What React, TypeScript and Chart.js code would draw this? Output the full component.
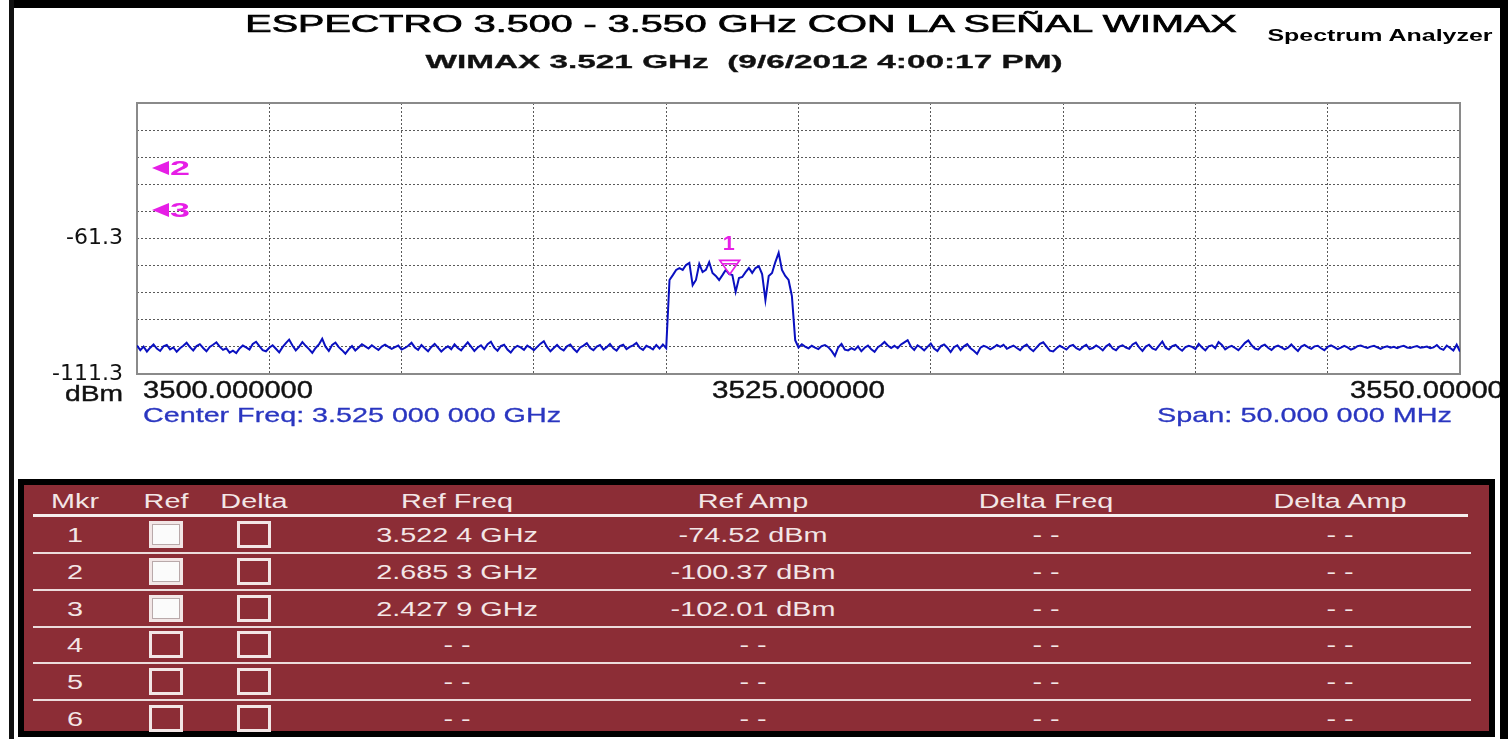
import React, { useEffect, useRef } from "react";
import { Chart, registerables } from "chart.js";

Chart.register(...registerables);

// ---------------- DATA ----------------
const START_FREQ_MHZ = 3500;
const STOP_FREQ_MHZ = 3550;

// trace points 0..160 (noise floor left of the WiMAX carrier)
const noiseLow = [
  -100.8, -102.5, -101.2, -103.0, -101.6, -100.4, -101.9, -102.8, -101.1, -100.6, -102.2, -101.5, -103.1, -101.8, -100.9, -99.8, -101.4, -102.6, -101.0, -100.3,
  -101.7, -102.9, -101.3, -100.5, -99.6, -101.2, -102.4, -101.8, -103.4, -102.7, -103.6, -101.9, -100.8, -101.5, -102.3, -100.2, -99.4, -101.0, -102.5, -102.9,
  -101.6, -100.7, -102.0, -103.3, -101.4, -99.9, -98.6, -100.8, -102.6, -101.3, -99.5, -100.9, -102.1, -103.5, -101.7, -100.4, -98.3, -101.2, -102.8, -100.6,
  -99.7, -101.4, -102.5, -103.8, -102.2, -101.0, -102.6, -101.5, -100.3, -101.1, -101.9, -100.7, -101.6, -102.4, -101.2, -100.5, -101.3, -102.0, -101.4, -100.8,
  -102.3, -101.7, -100.9, -99.8, -101.5, -102.4, -100.6, -101.8, -102.9, -101.3, -100.2, -101.6, -103.0, -101.9, -101.1, -102.2, -100.4, -101.7, -102.6, -101.0,
  -99.6, -101.2, -102.8, -101.5, -100.7, -102.1, -100.3, -99.4, -101.6, -102.7, -101.0, -100.5, -102.3, -103.4, -101.8, -100.9, -101.5, -102.4, -100.8, -101.6,
  -102.5, -101.3, -100.1, -99.2, -101.4, -102.9, -101.7, -100.6, -101.9, -102.6, -101.1, -100.4, -102.0, -103.2, -101.5, -100.8, -99.9, -101.7, -102.5, -101.2,
  -100.6, -102.3, -101.4, -100.2, -101.8, -102.7, -101.0, -100.5, -102.1, -101.3, -100.7, -99.8, -101.6, -102.4, -100.9, -101.5, -102.2, -100.6, -101.9, -100.4, -101.8,
];

// trace points 161..199 (the WiMAX carrier)
const signalBand = [
  -76.6, -74.8, -72.9, -72.2, -72.9, -71.1, -70.3, -78.5, -76.6, -70.7,
  -73.7, -72.9, -70.0, -74.0, -75.1, -76.6, -74.8, -72.9, -74.4, -74.8,
  -81.0, -75.9, -75.5, -73.7, -72.2, -74.0, -72.2, -71.5, -74.4, -84.0,
  -75.1, -74.0, -70.0, -66.6, -72.9, -75.1, -76.6, -82.5, -98.8,
];

// trace points 200..400 (noise floor right of the carrier)
const noiseHigh = [
  -101.5,
  -100.3, -101.2, -101.8, -100.9, -101.6, -102.1, -101.0, -100.6, -101.4, -102.8, -104.6, -101.5, -100.2, -102.3, -102.6, -101.8, -102.4, -101.1, -102.9, -101.6,
  -100.8, -102.2, -103.1, -101.4, -100.6, -99.5, -100.8, -101.7, -100.9, -101.8, -100.4, -99.6, -98.8, -101.2, -102.4, -100.7, -101.5, -102.6, -101.3, -100.1,
  -101.9, -102.8, -101.0, -100.4, -101.6, -103.2, -101.4, -100.7, -102.5, -101.1, -100.3, -101.8, -102.7, -103.9, -101.6, -100.9, -101.4, -102.2, -101.5, -100.6,
  -101.3, -100.5, -102.0, -101.4, -100.8, -101.7, -102.5, -101.2, -100.4, -101.9, -102.9, -101.5, -100.2, -99.6, -101.1, -102.7, -103.0, -101.8, -100.9, -101.6,
  -102.3, -101.0, -100.6, -101.8, -102.4, -101.3, -100.5, -102.1, -101.7, -100.8, -101.5, -102.6, -101.1, -100.3, -101.9, -102.5, -101.2, -100.7, -101.6, -102.0,
  -100.4, -99.7, -101.5, -102.8, -101.2, -100.5, -101.9, -102.4, -100.8, -99.3, -101.6, -102.3, -101.0, -100.6, -101.8, -102.7, -101.4, -100.9, -101.3, -102.1,
  -100.2, -101.5, -102.6, -101.1, -100.7, -101.8, -99.5, -100.6, -102.2, -101.4, -100.9, -101.7, -102.5, -101.2, -99.8, -98.9, -100.7, -101.9, -102.3, -101.0,
  -100.5, -101.6, -102.4, -101.3, -100.8, -101.5, -102.2, -101.6, -100.4, -101.7, -102.8, -101.2, -100.6, -101.4, -102.0, -101.1, -100.9, -101.8, -102.5, -101.3,
  -100.7, -101.4, -102.1, -101.6, -100.9, -101.5, -102.3, -101.8, -101.0, -100.8, -101.3, -101.7, -101.2, -100.9, -101.5, -102.0, -101.4, -101.1, -101.6, -101.3,
  -101.8, -101.2, -100.9, -101.5, -101.7, -101.3, -101.0, -101.6, -101.4, -101.2, -101.8, -101.5, -100.6, -101.9, -102.4, -100.8, -101.7, -102.6, -100.5, -103.0,
];

const traceDbm = [...noiseLow, ...signalBand, ...noiseHigh];

const xGridMHz = [3500, 3505, 3510, 3515, 3520, 3525, 3530, 3535, 3540, 3545, 3550];
const yGridDbm = [-111.3, -101.3, -91.3, -81.3, -71.3, -61.3, -51.3, -41.3, -31.3, -21.3, -11.3];
const yLabelValues = [-61.3, -111.3];
const yUnit = "dBm";
const xLabelValues = [3500, 3525, 3550];
const xLabelTexts = ["3500.000000", "3525.000000", "3550.000000"];

const onScreenMarker = { id: "1", freq: 3522.4, amp: -74.52 };
const offScreenMarkerIds = ["2", "3"];
const offScreenMarkerLevels = [-35.3, -50.8];

const titleText = "ESPECTRO 3.500 - 3.550 GHz CON LA SEÑAL WIMAX";
const subtitleText = "WIMAX 3.521 GHz  (9/6/2012 4:00:17 PM)";
const brandText = "Spectrum Analyzer";
const centerFreqText = "Center Freq: 3.525 000 000 GHz";
const spanText = "Span: 50.000 000 MHz";

const tableHeaders = ["Mkr", "Ref", "Delta", "Ref Freq", "Ref Amp", "Delta Freq", "Delta Amp"];
const markerIds = ["1", "2", "3", "4", "5", "6"];
const refChecked = [true, true, true, false, false, false];
const refFreqs = ["3.522 4 GHz", "2.685 3 GHz", "2.427 9 GHz", "- -", "- -", "- -"];
const refAmps = ["-74.52 dBm", "-100.37 dBm", "-102.01 dBm", "- -", "- -", "- -"];
const deltaFreqs = ["- -", "- -", "- -", "- -", "- -", "- -"];
const deltaAmps = ["- -", "- -", "- -", "- -", "- -", "- -"];

// ---------------- STYLE / LAYOUT ----------------
const FONT = "'Liberation Sans', Arial, sans-serif";
const MAGENTA = "#e61ee6";
const TRACE = "#0a10c0";
const AXIS_BLUE = "#2a36c0";
const MAROON = "#8c2d36";
const TABLE_TEXT = "#f3e6e6";

let measureCtx: CanvasRenderingContext2D | null = null;
function measure(text: string, font: string) {
  if (!measureCtx) measureCtx = document.createElement("canvas").getContext("2d");
  measureCtx!.font = font;
  return measureCtx!.measureText(text).width;
}

function fitText(
  ctx: CanvasRenderingContext2D,
  text: string,
  x: number,
  y: number,
  font: string,
  color: string,
  align: CanvasTextAlign,
  width: number,
  stroke = 0
) {
  ctx.save();
  ctx.font = font;
  const w0 = ctx.measureText(text).width || 1;
  ctx.translate(x, y);
  ctx.scale(width / w0, 1);
  ctx.textAlign = align;
  ctx.textBaseline = "middle";
  ctx.fillStyle = color;
  ctx.fillText(text, 0, 0);
  if (stroke > 0) {
    ctx.strokeStyle = color;
    ctx.lineWidth = stroke;
    ctx.strokeText(text, 0, 0);
  }
  ctx.restore();
}

const overlayPlugin = {
  id: "analyzerOverlay",
  beforeDatasetsDraw(chart: any) {
    const { ctx, chartArea: a } = chart;
    ctx.save();
    ctx.strokeStyle = "#8a8a8a";
    ctx.lineWidth = 2;
    ctx.strokeRect(a.left, a.top, a.right - a.left, a.bottom - a.top);
    ctx.restore();
  },
  afterDatasetsDraw(chart: any) {
    const { ctx, chartArea: a } = chart;
    const xs = chart.scales.x;
    const ys = chart.scales.y;
    // marker 1 (on trace)
    const px = xs.getPixelForValue(onScreenMarker.freq);
    const py = ys.getPixelForValue(onScreenMarker.amp);
    ctx.save();
    ctx.strokeStyle = MAGENTA;
    ctx.lineWidth = 1.6;
    ctx.beginPath();
    ctx.moveTo(px - 10, py - 14);
    ctx.lineTo(px + 10, py - 14);
    ctx.lineTo(px, py);
    ctx.closePath();
    ctx.stroke();
    ctx.beginPath();
    ctx.moveTo(px - 7, py - 10.5);
    ctx.lineTo(px + 7, py - 10.5);
    ctx.stroke();
    ctx.restore();
    fitText(ctx, onScreenMarker.id, px - 1, py - 30, `bold 20px ${FONT}`, MAGENTA, "center", 12);
    // off-screen markers
    offScreenMarkerIds.forEach((id, i) => {
      const y = ys.getPixelForValue(offScreenMarkerLevels[i]);
      const x0 = a.left + 15;
      ctx.save();
      ctx.fillStyle = MAGENTA;
      ctx.beginPath();
      ctx.moveTo(x0, y);
      ctx.lineTo(x0 + 17, y - 7);
      ctx.lineTo(x0 + 17, y + 7);
      ctx.closePath();
      ctx.fill();
      ctx.restore();
      fitText(ctx, id, x0 + 18, y + 1, `bold 21px ${FONT}`, MAGENTA, "left", 20);
    });
  },
  afterDraw(chart: any) {
    const { ctx, chartArea: a } = chart;
    const xs = chart.scales.x;
    const labelFont = `23px ${FONT}`;
    const ly = a.bottom + 17.5;
    xLabelValues.forEach((v, i) => {
      const p = xs.getPixelForValue(v);
      if (i === 0) fitText(ctx, xLabelTexts[i], p + 6, ly, labelFont, "#111", "left", 170, 0.4);
      else if (i === xLabelValues.length - 1) fitText(ctx, xLabelTexts[i], p - 110, ly, labelFont, "#111", "left", 170, 0.4);
      else fitText(ctx, xLabelTexts[i], p, ly, labelFont, "#111", "center", 173, 0.4);
    });
    fitText(ctx, yUnit, a.left - 14, a.bottom + 21, `22px ${FONT}`, "#111", "right", 58, 0.4);
    fitText(ctx, centerFreqText, a.left + 6, a.bottom + 42.5, `21px ${FONT}`, AXIS_BLUE, "left", 418, 0.3);
    fitText(ctx, spanText, a.right - 8, a.bottom + 42.5, `21px ${FONT}`, AXIS_BLUE, "right", 295, 0.3);
  },
};

function FitLabel(props: {
  text: string;
  cx: number;
  cy: number;
  font: string;
  color: string;
  width?: number;
  sx?: number;
  stroke?: number;
}) {
  const { text, cx, cy, font, color, width, sx, stroke } = props;
  const s = sx ?? (width ? width / (measure(text, font) || 1) : 1);
  return (
    <span
      style={{
        position: "absolute",
        left: cx,
        top: cy,
        transform: `translate(-50%, -50%) scaleX(${s})`,
        font,
        color,
        whiteSpace: "pre",
        lineHeight: 1,
        WebkitTextStroke: stroke ? `${stroke}px ${color}` : undefined,
      }}
    >
      {text}
    </span>
  );
}

export default function App() {
  const canvasRef = useRef<HTMLCanvasElement>(null);

  useEffect(() => {
    const step = (STOP_FREQ_MHZ - START_FREQ_MHZ) / (traceDbm.length - 1);
    const points = traceDbm.map((v, i) => ({ x: START_FREQ_MHZ + i * step, y: v }));
    const gridStyle = { color: "#5a5a5a", lineWidth: 1, drawTicks: false };
    const chart = new Chart(canvasRef.current!, {
      type: "line",
      data: {
        datasets: [
          {
            data: points,
            borderColor: TRACE,
            borderWidth: 2,
            pointRadius: 0,
            tension: 0,
            fill: false,
          },
        ],
      },
      options: {
        animation: false,
        responsive: false,
        devicePixelRatio: 1,
        layout: { padding: { top: 103, right: 48, bottom: 96, left: 0 } },
        plugins: { legend: { display: false }, tooltip: { enabled: false }, title: { display: false } },
        scales: {
          x: {
            type: "linear",
            min: START_FREQ_MHZ,
            max: STOP_FREQ_MHZ,
            afterBuildTicks: (s: any) => {
              s.ticks = xGridMHz.map((v) => ({ value: v }));
            },
            afterFit: (s: any) => {
              s.height = 0;
            },
            ticks: { display: false },
            grid: gridStyle,
            border: { display: false, dash: [2, 2] },
          },
          y: {
            type: "linear",
            min: yGridDbm[0],
            max: yGridDbm[yGridDbm.length - 1],
            afterBuildTicks: (s: any) => {
              s.ticks = yGridDbm.map((v) => ({ value: v }));
            },
            afterFit: (s: any) => {
              s.width = 137;
            },
            ticks: {
              callback: (v: any) => (yLabelValues.includes(Number(v)) ? String(v) : ""),
              color: "#111",
              font: { family: "DejaVu Sans", size: 22 },
              padding: 14,
              autoSkip: false,
            },
            grid: gridStyle,
            border: { display: false, dash: [2, 2] },
          },
        },
      },
      plugins: [overlayPlugin],
    } as any);
    return () => chart.destroy();
  }, []);

  const colCenters = [75, 166, 254, 457, 753, 1046, 1340];
  const rowCenter = (i: number) => 535 + i * 36.75;
  const tableFont = `20px ${FONT}`;
  const tableSx = 1.44;

  return (
    <div
      style={{
        position: "absolute",
        left: 0,
        top: 0,
        width: 1508,
        height: 739,
        background: "#fff",
        overflow: "hidden",
        fontFamily: FONT,
      }}
    >
      <canvas ref={canvasRef} width={1508} height={470} style={{ position: "absolute", left: 0, top: 0, width: 1508, height: 470 }} />

      <FitLabel text={titleText} cx={740.5} cy={24} font={`24px ${FONT}`} color="#000" width={995} stroke={0.7} />
      <FitLabel text={subtitleText} cx={743.5} cy={62} font={`bold 18px ${FONT}`} color="#111" width={637} stroke={0.3} />
      <FitLabel text={brandText} cx={1380} cy={35} font={`bold 17px ${FONT}`} color="#000" width={226} />

      {/* marker table */}
      <div
        style={{
          position: "absolute",
          left: 18,
          top: 479,
          width: 1477,
          height: 258,
          border: "6px solid #000",
          boxSizing: "border-box",
          background: MAROON,
        }}
      />
      {tableHeaders.map((h, c) => (
        <FitLabel key={"h" + c} text={h} cx={colCenters[c]} cy={501} font={tableFont} color={TABLE_TEXT} sx={tableSx} />
      ))}
      <div style={{ position: "absolute", left: 33, top: 514, width: 1435, height: 3, background: "#f6eeee" }} />
      {markerIds.slice(0, 5).map((_, i) => (
        <div
          key={"sep" + i}
          style={{ position: "absolute", left: 33, top: 552 + i * 36.8, width: 1438, height: 2, background: "#ecdcdc" }}
        />
      ))}
      {markerIds.map((id, i) => {
        const cy = rowCenter(i);
        const cells = [id, null, null, refFreqs[i], refAmps[i], deltaFreqs[i], deltaAmps[i]];
        return (
          <React.Fragment key={"r" + i}>
            {cells.map((t, c) =>
              t === null ? null : (
                <FitLabel key={c} text={t} cx={colCenters[c]} cy={cy} font={tableFont} color={TABLE_TEXT} sx={tableSx} />
              )
            )}
            <div
              style={{
                position: "absolute",
                left: colCenters[1] - 17,
                top: cy - 14,
                width: 34,
                height: 27,
                border: "3px solid #f2e6e6",
                boxSizing: "border-box",
                background: refChecked[i] ? "#fbfbfb" : "transparent",
                boxShadow: refChecked[i] ? "inset 0 0 0 1px #b9a9aa" : "none",
              }}
            />
            <div
              style={{
                position: "absolute",
                left: colCenters[2] - 17,
                top: cy - 14,
                width: 34,
                height: 27,
                border: "3px solid #f2e6e6",
                boxSizing: "border-box",
                background: "transparent",
              }}
            />
          </React.Fragment>
        );
      })}

      {/* outer frame */}
      <div style={{ position: "absolute", left: 9, top: 0, width: 1499, height: 8, background: "#000" }} />
      <div style={{ position: "absolute", left: 9, top: 0, width: 5, height: 739, background: "#111" }} />
      <div style={{ position: "absolute", left: 1500, top: 0, width: 8, height: 739, background: "#000" }} />
    </div>
  );
}
